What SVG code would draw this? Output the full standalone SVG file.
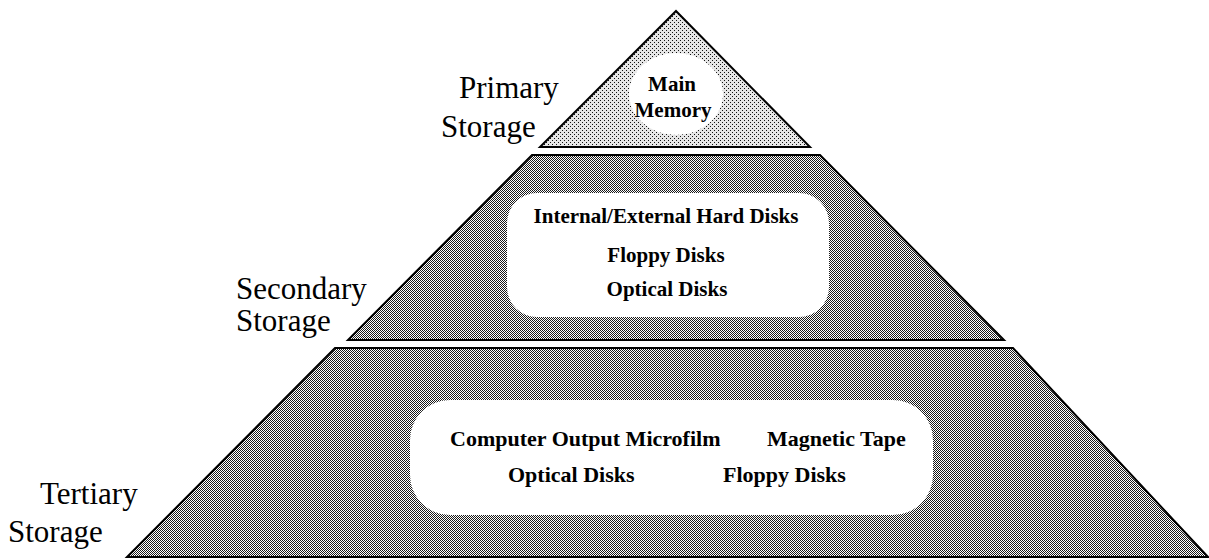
<svg xmlns="http://www.w3.org/2000/svg" width="1209" height="560" viewBox="0 0 1209 560">
<defs>
<pattern id="light" width="4" height="4" patternUnits="userSpaceOnUse">
<rect width="4" height="4" fill="#e6e6e6"/>
<rect x="0" y="0" width="1" height="1" fill="#111"/>
<rect x="2" y="2" width="1" height="1" fill="#111"/>
</pattern>
<pattern id="dense" width="2" height="2" patternUnits="userSpaceOnUse">
<rect width="2" height="2" fill="#fff"/>
<rect x="0" y="0" width="1" height="1" fill="#1a1a1a"/>
<rect x="1" y="1" width="1" height="1" fill="#1a1a1a"/>
</pattern>
</defs>
<style>
.tier{stroke:#000;stroke-width:2;stroke-linejoin:miter}
.hole{fill:#fff}
.lbl{font-family:"Liberation Serif","Times New Roman",serif;font-size:31px;fill:#000}
.item{font-family:"Liberation Serif","Times New Roman",serif;font-weight:bold;font-size:21px;fill:#000;text-anchor:middle}
.item2{font-family:"Liberation Serif","Times New Roman",serif;font-weight:bold;font-size:22px;fill:#000}
</style>
<rect width="1209" height="560" fill="#fff"/>

<g id="primary">
<polygon class="tier" points="676,11 810,147 540,147" fill="url(#light)"/>
<ellipse class="hole" cx="676" cy="94" rx="47" ry="41"/>
<text class="item" x="672" y="91">Main</text>
<text class="item" x="673" y="117">Memory</text>
<text class="lbl" x="459" y="98">Primary</text>
<text class="lbl" x="441" y="137">Storage</text>
</g>

<g id="secondary">
<polygon class="tier" points="532,155 820,155 1004,340 348,340" fill="url(#dense)"/>
<rect class="hole" x="507" y="193" width="322" height="124" rx="30" ry="30"/>
<text class="item" x="666" y="223">Internal/External Hard Disks</text>
<text class="item" x="666" y="262">Floppy Disks</text>
<text class="item" x="667" y="296">Optical Disks</text>
<text class="lbl" x="236" y="299">Secondary</text>
<text class="lbl" x="236" y="331">Storage</text>
</g>

<g id="tertiary">
<polygon class="tier" points="335,348 1013,348 1208,557 127,557" fill="url(#dense)"/>
<rect class="hole" x="410" y="400" width="523" height="115" rx="40" ry="40"/>
<text class="item2" x="450" y="446">Computer Output Microfilm</text>
<text class="item2" x="767" y="446">Magnetic Tape</text>
<text class="item2" x="508" y="482">Optical Disks</text>
<text class="item2" x="723" y="482">Floppy Disks</text>
<text class="lbl" x="40" y="504">Tertiary</text>
<text class="lbl" x="8" y="542">Storage</text>
</g>
</svg>
